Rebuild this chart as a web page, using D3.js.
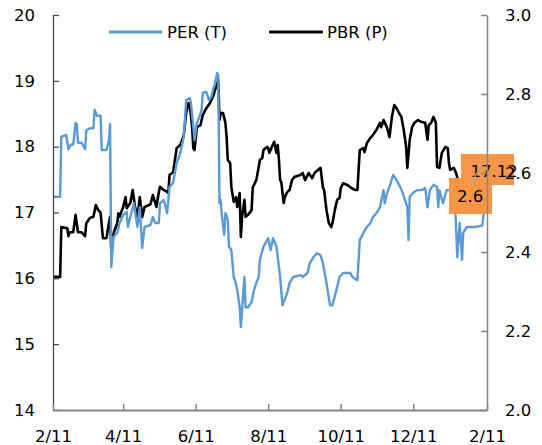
<!DOCTYPE html>
<html><head><meta charset="utf-8">
<script src="https://cdn.jsdelivr.net/npm/d3@7"></script>
<style>html,body{margin:0;padding:0;background:#fff;} svg{display:block;font-family:"DejaVu Sans",sans-serif;}</style>
</head><body><svg id="chart" width="542" height="445"></svg>
<script>
const seriesNames = ["PER (T)", "PBR (P)"];
const perDates = ["2018-02-11","2018-02-17","2018-02-18","2018-02-22","2018-02-24","2018-02-26","2018-02-28","2018-03-02","2018-03-03","2018-03-04","2018-03-07","2018-03-10","2018-03-11","2018-03-14","2018-03-17","2018-03-18","2018-03-20","2018-03-23","2018-03-24","2018-03-28","2018-03-30","2018-03-31","2018-04-01","2018-04-03","2018-04-06","2018-04-08","2018-04-11","2018-04-14","2018-04-15","2018-04-17","2018-04-20","2018-04-23","2018-04-25","2018-04-27","2018-04-29","2018-05-04","2018-05-06","2018-05-08","2018-05-11","2018-05-12","2018-05-15","2018-05-16","2018-05-18","2018-05-20","2018-05-23","2018-05-26","2018-05-29","2018-06-01","2018-06-03","2018-06-06","2018-06-07","2018-06-09","2018-06-10","2018-06-12","2018-06-14","2018-06-16","2018-06-17","2018-06-20","2018-06-22","2018-06-24","2018-06-26","2018-06-27","2018-06-29","2018-06-30","2018-07-01","2018-07-02","2018-07-03","2018-07-05","2018-07-06","2018-07-08","2018-07-09","2018-07-11","2018-07-13","2018-07-14","2018-07-16","2018-07-18","2018-07-19","2018-07-21","2018-07-22","2018-07-23","2018-07-25","2018-07-28","2018-07-30","2018-08-01","2018-08-03","2018-08-04","2018-08-07","2018-08-10","2018-08-11","2018-08-13","2018-08-15","2018-08-18","2018-08-21","2018-08-23","2018-08-27","2018-08-29","2018-09-01","2018-09-07","2018-09-09","2018-09-13","2018-09-15","2018-09-18","2018-09-21","2018-09-24","2018-09-26","2018-09-29","2018-10-02","2018-10-04","2018-10-08","2018-10-10","2018-10-13","2018-10-19","2018-10-21","2018-10-25","2018-10-27","2018-10-30","2018-11-02","2018-11-05","2018-11-07","2018-11-10","2018-11-13","2018-11-16","2018-11-17","2018-11-19","2018-11-21","2018-11-24","2018-11-27","2018-11-30","2018-12-02","2018-12-06","2018-12-07","2018-12-08","2018-12-11","2018-12-14","2018-12-18","2018-12-21","2018-12-23","2018-12-25","2018-12-28","2018-12-31","2019-01-01","2019-01-02","2019-01-05","2019-01-08","2019-01-11","2019-01-15","2019-01-17","2019-01-19","2019-01-21","2019-01-22","2019-01-25","2019-02-01","2019-02-07","2019-02-09"];
const perValues = [17.24,17.24,18.15,18.18,17.96,18.03,18.03,18.36,18.34,18.06,18.06,17.96,18.25,18.28,18.28,18.56,18.47,18.47,17.95,17.95,18.10,18.34,16.17,16.63,16.69,16.84,16.96,17.01,16.78,16.93,17.14,16.78,17.08,16.46,16.78,16.81,16.93,16.84,16.84,17.14,17.19,17.14,16.99,17.39,17.45,17.75,17.90,18.15,18.71,18.74,18.66,18.30,18.10,18.36,18.45,18.56,18.82,18.83,18.71,18.75,18.89,18.94,19.12,19.09,17.14,17.19,16.96,16.66,16.99,16.89,16.48,16.43,16.02,15.97,15.82,15.56,15.26,15.78,16.02,15.56,15.56,15.64,15.82,15.93,16.02,16.28,16.48,16.58,16.61,16.43,16.61,16.48,16.02,15.59,15.78,15.93,16.02,16.05,16.02,16.08,16.23,16.32,16.38,16.35,16.23,15.93,15.59,15.59,15.87,16.02,16.08,16.08,16.02,15.97,16.58,16.69,16.78,16.84,16.93,16.99,17.08,17.34,17.14,17.30,17.39,17.57,17.49,17.39,17.30,17.08,16.58,17.24,17.30,17.34,17.34,17.37,17.08,17.34,17.42,17.39,17.08,17.34,17.14,17.34,17.34,17.19,16.32,16.84,16.28,16.69,16.78,16.78,16.80,17.12];
const pbrDates = ["2018-02-11","2018-02-17","2018-02-18","2018-02-23","2018-02-24","2018-02-25","2018-02-28","2018-03-02","2018-03-04","2018-03-07","2018-03-10","2018-03-11","2018-03-14","2018-03-17","2018-03-19","2018-03-21","2018-03-23","2018-03-25","2018-03-28","2018-03-29","2018-03-31","2018-04-01","2018-04-03","2018-04-06","2018-04-07","2018-04-08","2018-04-11","2018-04-13","2018-04-14","2018-04-17","2018-04-19","2018-04-21","2018-04-23","2018-04-25","2018-04-27","2018-04-29","2018-05-04","2018-05-06","2018-05-09","2018-05-11","2018-05-12","2018-05-15","2018-05-18","2018-05-19","2018-05-20","2018-05-23","2018-05-26","2018-05-29","2018-06-01","2018-06-03","2018-06-05","2018-06-06","2018-06-08","2018-06-09","2018-06-10","2018-06-12","2018-06-15","2018-06-17","2018-06-20","2018-06-23","2018-06-26","2018-06-28","2018-06-30","2018-07-01","2018-07-02","2018-07-04","2018-07-06","2018-07-07","2018-07-08","2018-07-10","2018-07-11","2018-07-13","2018-07-15","2018-07-16","2018-07-18","2018-07-19","2018-07-20","2018-07-22","2018-07-23","2018-07-25","2018-07-28","2018-07-29","2018-08-01","2018-08-03","2018-08-04","2018-08-06","2018-08-07","2018-08-10","2018-08-11","2018-08-12","2018-08-14","2018-08-16","2018-08-18","2018-08-19","2018-08-20","2018-08-21","2018-08-22","2018-08-24","2018-08-25","2018-08-27","2018-08-29","2018-08-31","2018-09-02","2018-09-07","2018-09-09","2018-09-11","2018-09-14","2018-09-17","2018-09-19","2018-09-22","2018-09-24","2018-09-26","2018-09-27","2018-09-29","2018-10-01","2018-10-03","2018-10-04","2018-10-06","2018-10-08","2018-10-10","2018-10-11","2018-10-13","2018-10-17","2018-10-20","2018-10-23","2018-10-25","2018-10-26","2018-10-27","2018-10-30","2018-10-31","2018-11-02","2018-11-05","2018-11-07","2018-11-10","2018-11-13","2018-11-14","2018-11-16","2018-11-19","2018-11-21","2018-11-23","2018-11-25","2018-11-27","2018-11-29","2018-12-01","2018-12-03","2018-12-05","2018-12-06","2018-12-08","2018-12-10","2018-12-12","2018-12-15","2018-12-18","2018-12-21","2018-12-23","2018-12-24","2018-12-26","2018-12-28","2018-12-30","2018-12-31","2019-01-02","2019-01-04","2019-01-07","2019-01-09","2019-01-10","2019-01-11","2019-01-14","2019-01-16","2019-01-18","2019-01-24","2019-02-01","2019-02-09"];
const pbrValues = [2.337,2.337,2.463,2.46,2.44,2.45,2.45,2.494,2.45,2.45,2.44,2.473,2.486,2.489,2.519,2.506,2.50,2.435,2.435,2.456,2.489,2.405,2.448,2.473,2.498,2.489,2.514,2.539,2.511,2.524,2.557,2.514,2.489,2.539,2.489,2.514,2.521,2.544,2.514,2.552,2.565,2.557,2.552,2.549,2.595,2.602,2.663,2.671,2.696,2.752,2.777,2.772,2.716,2.663,2.658,2.716,2.721,2.747,2.764,2.777,2.797,2.818,2.835,2.734,2.752,2.752,2.727,2.691,2.633,2.625,2.564,2.527,2.539,2.514,2.549,2.438,2.489,2.532,2.489,2.494,2.506,2.564,2.582,2.615,2.633,2.638,2.658,2.666,2.663,2.651,2.666,2.679,2.651,2.671,2.633,2.582,2.577,2.524,2.539,2.552,2.557,2.582,2.590,2.595,2.600,2.582,2.600,2.587,2.600,2.608,2.613,2.564,2.557,2.506,2.473,2.463,2.473,2.506,2.532,2.537,2.562,2.574,2.569,2.562,2.557,2.557,2.608,2.658,2.663,2.653,2.676,2.689,2.696,2.709,2.727,2.716,2.734,2.714,2.691,2.742,2.772,2.764,2.752,2.742,2.709,2.666,2.613,2.684,2.716,2.727,2.734,2.729,2.727,2.684,2.721,2.727,2.742,2.727,2.615,2.613,2.651,2.666,2.663,2.625,2.608,2.613,2.600,2.577,2.570,2.587,2.600];
const xTickDates = ["2018-02-11","2018-04-11","2018-06-11","2018-08-11","2018-10-11","2018-12-11","2019-02-11"];
const xTickLabels = ["2/11","4/11","6/11","8/11","10/11","12/11","2/11"];
const leftTicks = [14,15,16,17,18,19,20];
const rightTicks = [2.0,2.2,2.4,2.6,2.8,3.0];
const lastLabels = ["17.12","2.6"];

const parse = d3.timeParse("%Y-%m-%d");
const W = 542, H = 445;
const M = {left: 53, right: 487, top: 15, bottom: 410};
const blue = "#5B9BD5", axisGray = "#868686", orange = "#F79646";
const fontSize = 16.5;

const svg = d3.select("#chart");
const x = d3.scaleTime().domain([parse(xTickDates[0]), parse(xTickDates[xTickDates.length-1])]).range([M.left, M.right]);
const yL = d3.scaleLinear().domain([leftTicks[0], leftTicks[leftTicks.length-1]]).range([M.bottom, M.top]);
const yR = d3.scaleLinear().domain([rightTicks[0], rightTicks[rightTicks.length-1]]).range([M.bottom, M.top]);

const per = perDates.map((d,i)=>({date: parse(d), v: perValues[i]}));
const pbr = pbrDates.map((d,i)=>({date: parse(d), v: pbrValues[i]}));

// series
svg.append("path").datum(per)
  .attr("fill","none").attr("stroke",blue).attr("stroke-width",2.4).attr("stroke-linejoin","round")
  .attr("d", d3.line().x(d=>x(d.date)).y(d=>yL(d.v)));
svg.append("path").datum(pbr)
  .attr("fill","none").attr("stroke","#000").attr("stroke-width",2.6).attr("stroke-linejoin","round")
  .attr("d", d3.line().x(d=>x(d.date)).y(d=>yR(d.v)));

// axes
const gL = svg.append("g").attr("transform",`translate(${M.left},0)`)
  .call(d3.axisLeft(yL).tickValues(leftTicks).tickSizeInner(-6).tickSizeOuter(0).tickPadding(18).tickFormat(d3.format("d")));
const gR = svg.append("g").attr("transform",`translate(${M.right},0)`)
  .call(d3.axisRight(yR).tickValues(rightTicks).tickSizeInner(-6).tickSizeOuter(0).tickPadding(18).tickFormat(d3.format(".1f")));
const gB = svg.append("g").attr("transform",`translate(0,${M.bottom})`)
  .call(d3.axisBottom(x).tickValues(xTickDates.map(parse)).tickSizeInner(-6).tickSizeOuter(0).tickPadding(20).tickFormat((d,i)=>xTickLabels[i]));

[gL,gR,gB].forEach(g=>{
  g.selectAll("text").attr("font-family","DejaVu Sans, sans-serif").attr("font-size",fontSize).attr("fill","#000");
});
gL.select(".domain").attr("stroke","#404040").attr("stroke-width",1.2);
gL.selectAll(".tick line").attr("stroke","#404040").attr("stroke-width",1.2);
gR.select(".domain").attr("stroke",axisGray).attr("stroke-width",1.5);
gR.selectAll(".tick line").attr("stroke",axisGray).attr("stroke-width",1.5);
gB.select(".domain").attr("stroke",axisGray).attr("stroke-width",1.8);
gB.selectAll(".tick line").attr("stroke",axisGray).attr("stroke-width",1.5);

// last-value labels
const lastPer = per[per.length-1], lastPbr = pbr[pbr.length-1];
const xl = x(lastPer.date);
const lab = svg.append("g");
lab.append("rect").attr("x", xl-23.6).attr("y", yR(lastPbr.v)-19).attr("width",53).attr("height",31).attr("fill",orange);
lab.append("rect").attr("x", xl-35.6).attr("y", yL(lastPer.v)-26.6).attr("width",43).attr("height",36).attr("fill",orange);
lab.append("text").attr("x", xl-14).attr("y", yR(lastPbr.v)-1.5).attr("dominant-baseline","central")
  .attr("font-size",fontSize).text(lastLabels[0]);
lab.append("text").attr("x", xl-14.6).attr("y", yL(lastPer.v)-8.6).attr("dominant-baseline","central").attr("text-anchor","middle")
  .attr("font-size",fontSize).text(lastLabels[1]);
lab.append("line").attr("x1", xl-3).attr("y1", yR(lastPbr.v)-8).attr("x2", xl-13.6).attr("y2", yL(lastPer.v)-21.3)
  .attr("stroke","#A6A6A6").attr("stroke-width",1.3);

// right tick labels on top of boxes
gR.raise();
gR.select(".domain").lower();
lab.lower(); 
// keep boxes above series & right axis line but below labels
svg.selectAll("path").filter(function(){return this.parentNode===svg.node();}).lower();
gR.selectAll(".tick line").raise();

// legend
const legend = svg.append("g");
const legY = 32;
legend.append("line").attr("x1",109).attr("x2",162).attr("y1",legY).attr("y2",legY).attr("stroke",blue).attr("stroke-width",3);
legend.append("text").attr("x",167).attr("y",legY).attr("dominant-baseline","central").attr("font-size",fontSize).text(seriesNames[0]);
legend.append("line").attr("x1",269).attr("x2",323).attr("y1",legY).attr("y2",legY).attr("stroke","#000").attr("stroke-width",3);
legend.append("text").attr("x",327).attr("y",legY).attr("dominant-baseline","central").attr("font-size",fontSize).text(seriesNames[1]);
</script></body></html>
